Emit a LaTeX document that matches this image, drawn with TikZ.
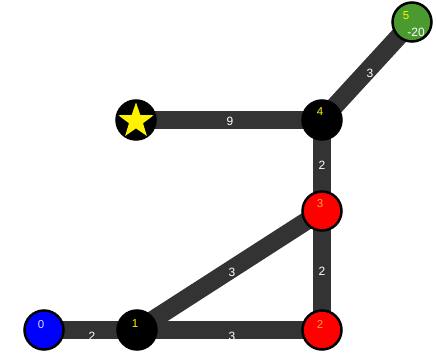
\documentclass[tikz,border=0pt]{standalone}
\usepackage{fontspec}
\setmainfont{Liberation Sans}
\usetikzlibrary{shapes.geometric, backgrounds}
\definecolor{edgegray}{HTML}{333333}
\definecolor{nodegreen}{HTML}{4A9A30}
\definecolor{lblorange}{HTML}{FFA040}
\tikzset{
 vert/.style={circle, draw=black, line width=2.5pt, minimum size=39pt, inner sep=0pt},
 link/.style={edgegray, line width=18pt},
 wt/.style={white, font=\fontsize{12}{12}\selectfont},
 tag/.style={font=\fontsize{11.5}{11.5}\selectfont}
}
\begin{document}
\begin{tikzpicture}[x=1pt, y=-1pt]
\useasboundingbox (0,0) rectangle (436,358);
\node[vert, fill=blue](n0) at (44,330){};
\node[vert, fill=black](n1) at (137,330){};
\node[vert, fill=red](n2) at (322,330){};
\node[vert, fill=red](n3) at (322,211){};
\node[vert, fill=black](n4) at (322,120){};
\node[vert, fill=black](ns) at (136,120){};
\node[vert, fill=nodegreen](n5) at (412,22){};
% edges go under the vertices
\begin{pgfonlayer}{background}
\draw[link](n0.center)--(n1.center);
\draw[link](n1.center)--(n2.center);
\draw[link](n1.center)--(n3.center);
\draw[link](n2.center)--(n3.center);
\draw[link](n3.center)--(n4.center);
\draw[link](ns.center)--(n4.center);
\draw[link](n4.center)--(n5.center);
\end{pgfonlayer}
\node[wt] at (92,336){2};
\node[wt] at (232,336){3};
\node[wt] at (232,272){3};
\node[wt] at (322,271){2};
\node[wt] at (322,165){2};
\node[wt] at (230,121){9};
\node[wt] at (370,73){3};
\node[tag, white!85!blue] at ([shift={(-3,-5)}]n0.center){0};
\node[tag, yellow] at ([shift={(-2,-6)}]n1.center){1};
\node[tag, lblorange] at ([shift={(-2,-6)}]n2.center){2};
\node[tag, lblorange] at ([shift={(-2,-7)}]n3.center){3};
\node[tag, yellow] at ([shift={(-2,-8)}]n4.center){4};
\node[tag, yellow] at ([shift={(-6,-6)}]n5.center){5};
\node[tag, white, font=\fontsize{12}{12}\selectfont] at ([shift={(4,10)}]n5.center){-20};
\node[star, star points=5, star point ratio=2.5, fill=yellow, minimum size=37pt, inner sep=0pt] at ([shift={(0,1)}]ns.center){};
\end{tikzpicture}
\end{document}
